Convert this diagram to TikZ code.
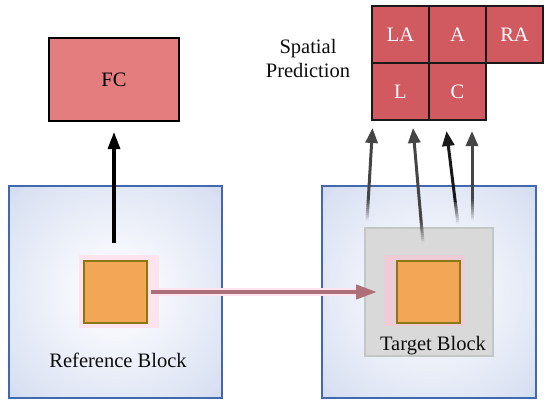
\documentclass[tikz,border=0pt]{standalone}
\usepackage{fontspec}
\setmainfont{Liberation Serif}
\usetikzlibrary{arrows.meta,calc}
\definecolor{fcred}{HTML}{E47D7D}
\definecolor{cellred}{HTML}{D05A60}
\definecolor{blockedge}{HTML}{B3C5E7}
\definecolor{blockmid}{HTML}{D9E1F2}
\definecolor{blockcenter}{HTML}{F5F7FC}
\definecolor{blockborder}{HTML}{4468B0}
\definecolor{grayfill}{HTML}{D9D9D9}
\definecolor{grayedge}{HTML}{C2C6C6}
\definecolor{orangefill}{HTML}{F3A656}
\definecolor{orangeedge}{HTML}{8A7815}
\definecolor{harrowcol}{HTML}{AE7078}
\definecolor{upcol}{HTML}{454545}
\definecolor{glowpink}{HTML}{FCE3EE}
\definecolor{glowgray}{HTML}{EDCCD6}
\pgfdeclareradialshading{blockshade}{\pgfpoint{0bp}{0bp}}{color(0bp)=(blockcenter); color(10bp)=(blockcenter); color(32bp)=(blockmid); color(50bp)=(blockedge); color(72bp)=(blockedge)}
\begin{document}
\begin{tikzpicture}[x=1pt,y=-1pt,
  font=\fontsize{20.5}{24}\selectfont,
  bigblock/.style={draw=blockborder, line width=1.8pt, shade, shading=blockshade, minimum width=213pt, minimum height=212pt, inner sep=0pt},
  graybox/.style={draw=grayedge, line width=1.6pt, fill=grayfill, minimum width=128pt, minimum height=128pt, inner sep=0pt},
  orangesq/.style={draw=orangeedge, line width=2pt, fill=orangefill, minimum width=63pt, minimum height=62pt, inner sep=0pt},
  glow/.style={fill=glowpink, draw=none},
  fcbox/.style={draw=black, line width=2pt, fill=fcred, minimum width=130pt, minimum height=83pt, inner sep=0pt},
  cell/.style={draw=black!90, line width=1.6pt, fill=cellred, text=white, minimum width=57pt, minimum height=57pt, inner sep=0pt},
  label/.style={text=black!95, inner sep=0pt, anchor=base},
  fcarrow/.style={draw=black, line width=3.2pt, -{Triangle[length=17pt,width=12pt]}},
  harrow/.style={draw=harrowcol, line width=4.2pt, -{Triangle[length=21pt,width=14pt]}},
  uparrow/.style={draw=upcol, line width=3pt, -{Triangle[length=15pt,width=12pt]}},
  darkup/.style={draw=black!90, line width=3pt, -{Triangle[length=15pt,width=12pt]}},
  tailseg/.style={draw=upcol, line width=3pt}
]
\useasboundingbox (0,0) rectangle (550,407);

% big blocks
\node[bigblock] (refblk) at (115.5,292) {};
\node[bigblock, minimum width=214pt] (tgtblk) at (429,292) {};
\node[graybox] (gbox) at (429,292) {};

% glows
\fill[glow] (79,255) rectangle (159,328);
\fill[glow, fill=glowgray] (384,255) rectangle (465,326);

% orange squares
\node[orangesq] (lsq) at (115.5,292) {};
\node[orangesq] (rsq) at (428.5,292) {};

% labels
\node[label] (reflab) at (118,367) {Reference Block};
\node[label] (tgtlab) at (433,350) {Target Block};
\node[label] (sp1) at (308,53) {Spatial};
\node[label] (sp2) at (308,77) {Prediction};

% FC
\node[fcbox] (fc) at (114,79.5) {FC};

% grid
\node[cell] (LA) at (400.5,34.5) {LA};
\node[cell] (A) at (457.5,34.5) {A};
\node[cell] (RA) at (514.5,34.5) {RA};
\node[cell] (L) at (400.5,91.5) {L};
\node[cell] (C) at (457.5,91.5) {C};

% FC arrow
\coordinate (fctail) at (114,243);
\draw[fcarrow, shorten >=10pt] (fctail) -- (fc.south);

% horizontal arrow with faint glow
\draw[draw=glowpink, line width=8pt, shorten <=3pt, shorten >=30pt] (lsq.east) -- (rsq.west);
\draw[harrow, shorten <=3pt, shorten >=19pt] (lsq.east) -- (rsq.west);

% upward arrows
\coordinate (s1) at (367,221);
\coordinate (t1) at (372.5,128);
\coordinate (s2) at (423,243);
\coordinate (t2) at (413,128);
\coordinate (s3) at (458,224);
\coordinate (t3) at (446.5,131);
\coordinate (s4) at (472,221);
\coordinate (t4) at (472,131);

\foreach \s/\t in {s1/t1,s2/t2,s3/t3,s4/t4}{
  \foreach \k in {0,...,10}{
    \pgfmathsetmacro\op{(\k+0.5)/11}
    \pgfmathsetmacro\da{\k*2}
    \pgfmathsetmacro\db{\k*2+2.2}
    \draw[tailseg, draw opacity=\op] ($(\s)!\da pt!(\t)$) -- ($(\s)!\db pt!(\t)$);
  }
}
\draw[uparrow] ($(s1)!22pt!(t1)$) -- (t1);
\draw[uparrow] ($(s2)!22pt!(t2)$) -- (t2);
\draw[darkup] ($(s3)!22pt!(t3)$) -- (t3);
\draw[uparrow] ($(s4)!22pt!(t4)$) -- (t4);
\end{tikzpicture}
\end{document}
